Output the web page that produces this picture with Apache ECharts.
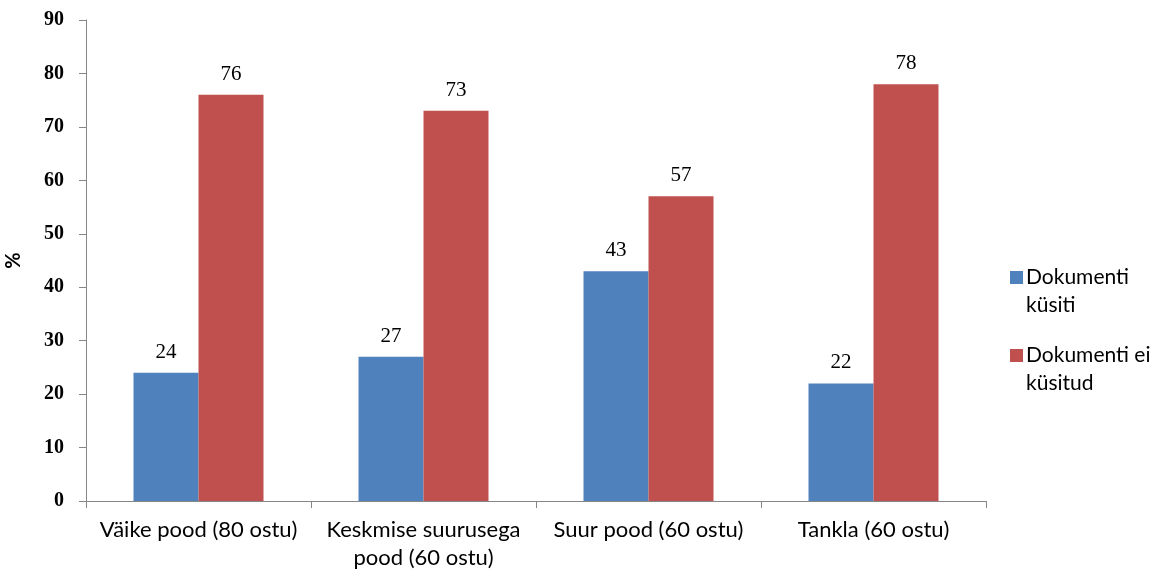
<!DOCTYPE html>
<html>
<head>
<meta charset="utf-8">
<script src="https://cdn.jsdelivr.net/npm/echarts@6/dist/echarts.min.js"></script>
<style>
  html, body { margin: 0; padding: 0; background: #fff; }
  #chart { width: 1163px; height: 574px; }
</style>
</head>
<body>
<div id="chart"></div>
<script>
// Store types (number of purchases in parentheses)
const categories = [
  'Väike pood (80 ostu)',
  'Keskmise suurusega\npood (60 ostu)',
  'Suur pood (60 ostu)',
  'Tankla (60 ostu)'
];
const seriesNames = ['Dokumenti\nküsiti', 'Dokumenti ei\nküsitud'];
const askedValues = [24, 27, 43, 22];
const notAskedValues = [76, 73, 57, 78];
const yTicks = { min: 0, max: 90, step: 10 };

const axisGray = '#868686';
const sansFont = 'Lato';
const serifFont = 'Liberation Serif';

// Square marker beside the first text line; the zero-length subpaths stretch the
// icon box to the full two-line height so the square keeps its place at the top.
const legendIcon = 'path://M0,8L13,8L13,21L0,21Z M0,0L0,0 M0,56L0,56';

const chart = echarts.init(document.getElementById('chart'));
chart.setOption({
  animation: false,
  grid: { left: 86, right: 177, top: 20, bottom: 73, outerBoundsMode: 'none', containLabel: false },
  legend: {
    orient: 'vertical',
    left: 1005,
    top: 258,
    itemWidth: 13,
    itemHeight: 56,
    itemGap: 22,
    icon: legendIcon,
    textStyle: {
      fontFamily: sansFont,
      fontSize: 21,
      color: '#000',
      lineHeight: 28,
      padding: [0, 0, 0, -2]
    },
    data: seriesNames
  },
  xAxis: {
    type: 'category',
    data: categories,
    axisLine: { lineStyle: { color: axisGray, width: 1 } },
    axisTick: { show: true, length: 7, alignWithLabel: false, lineStyle: { color: axisGray } },
    axisLabel: {
      fontFamily: sansFont,
      fontSize: 22,
      color: '#000',
      lineHeight: 28,
      margin: 15,
      interval: 0
    }
  },
  yAxis: {
    type: 'value',
    min: yTicks.min,
    max: yTicks.max,
    interval: yTicks.step,
    name: '%',
    nameLocation: 'middle',
    nameGap: 62,
    nameTextStyle: { fontFamily: sansFont, fontSize: 20, fontWeight: 'bold', color: '#000' },
    axisLine: { show: true, lineStyle: { color: axisGray, width: 1 } },
    axisTick: { show: true, length: 7, lineStyle: { color: axisGray } },
    splitLine: { show: false },
    axisLabel: {
      fontFamily: serifFont,
      fontSize: 20,
      fontWeight: 'bold',
      color: '#000',
      margin: 22
    }
  },
  series: [
    {
      name: seriesNames[0],
      type: 'bar',
      data: askedValues,
      barWidth: 65,
      barGap: '0%',
      itemStyle: { color: '#4F81BD' },
      label: {
        show: true,
        position: 'top',
        distance: 10,
        fontFamily: serifFont,
        fontSize: 21,
        color: '#000'
      }
    },
    {
      name: seriesNames[1],
      type: 'bar',
      data: notAskedValues,
      barWidth: 65,
      barGap: '0%',
      itemStyle: { color: '#C0504D' },
      label: {
        show: true,
        position: 'top',
        distance: 10,
        fontFamily: serifFont,
        fontSize: 21,
        color: '#000'
      }
    }
  ]
});
</script>
</body>
</html>
